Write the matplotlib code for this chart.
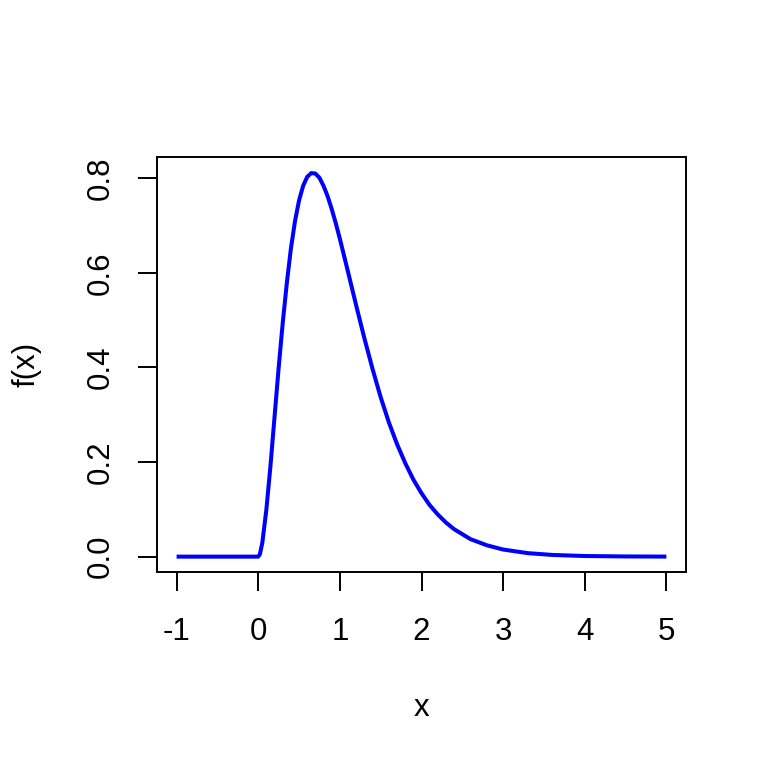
import matplotlib
matplotlib.use("Agg")
import matplotlib.pyplot as plt

# density values
x_vals = [-1.0, -0.5, 0.0, 0.02, 0.05, 0.1, 0.15, 0.2, 0.25, 0.3, 0.35,
          0.4, 0.45, 0.5, 0.55, 0.6, 0.65, 0.7, 0.75, 0.8, 0.85, 0.9,
          0.95, 1.0, 1.1, 1.2, 1.3, 1.4, 1.5, 1.6, 1.7, 1.8, 1.9, 2.0,
          2.1, 2.2, 2.3, 2.4, 2.6, 2.8, 3.0, 3.3, 3.6, 4.0, 4.5, 5.0]
y_vals = [0.0, 0.0, 0.0, 0.005, 0.029, 0.100, 0.192, 0.296, 0.399, 0.494,
          0.578, 0.651, 0.709, 0.753, 0.784, 0.803, 0.811, 0.810, 0.801,
          0.784, 0.762, 0.735, 0.705, 0.672, 0.602, 0.531, 0.462, 0.397,
          0.337, 0.284, 0.238, 0.198, 0.163, 0.134, 0.109, 0.089, 0.072,
          0.058, 0.037, 0.024, 0.015, 0.0074, 0.0036, 0.0013, 0.0004,
          0.0001]
x_ticks = [-1, 0, 1, 2, 3, 4, 5]
y_ticks = [0.0, 0.2, 0.4, 0.6, 0.8]

plt.rcParams["font.family"] = ["Liberation Sans", "DejaVu Sans"]

fig = plt.figure(figsize=(7.68, 7.68), dpi=100)
ax = fig.add_axes([157 / 768, 1 - 572 / 768, 529 / 768, 415 / 768])

ax.plot(x_vals, y_vals, color="#0000FF", lw=2.9,
        solid_joinstyle="round", solid_capstyle="butt")

ax.set_xlim(-1.24, 5.24)
ax.set_ylim(-0.0325, 0.845)
ax.set_xticks(x_ticks)
ax.set_xticklabels([str(t) for t in x_ticks])
ax.set_yticks(y_ticks)
ax.set_yticklabels([f"{t:.1f}" for t in y_ticks], rotation=90, va="center")

for s in ax.spines.values():
    s.set_linewidth(1.4)
ax.tick_params(axis="both", direction="out", length=13.7, width=1.4,
               labelsize=22.5)
ax.tick_params(axis="x", pad=19)
ax.tick_params(axis="y", pad=16)

ax.set_xlabel("x", fontsize=22.5, va="center")
ax.xaxis.set_label_coords(0.5, -0.327)
ax.set_ylabel("f(x)", fontsize=22.5, va="center")
ax.yaxis.set_label_coords(-0.247, 0.5)

fig.savefig("out.png", dpi=100)
